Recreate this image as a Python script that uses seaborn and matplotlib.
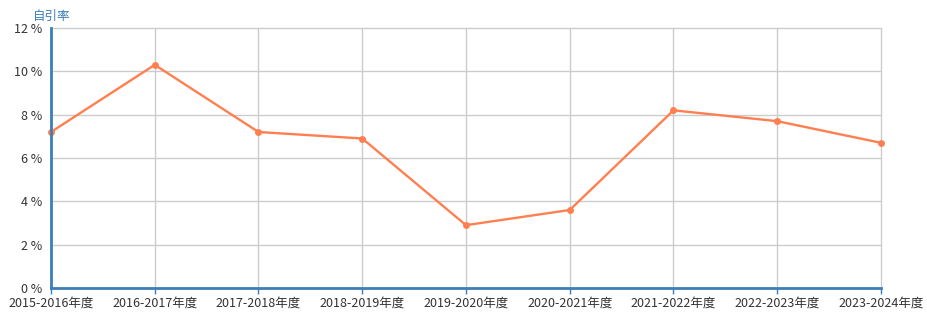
import matplotlib
matplotlib.use("Agg")
import matplotlib.pyplot as plt
import seaborn as sns
import pandas as pd

categories = ["2015-2016年度", "2016-2017年度", "2017-2018年度", "2018-2019年度",
              "2019-2020年度", "2020-2021年度", "2021-2022年度", "2022-2023年度",
              "2023-2024年度"]
values = [7.2, 10.3, 7.2, 6.9, 2.9, 3.6, 8.2, 7.7, 6.7]
yticks = [0, 2, 4, 6, 8, 10, 12]
ytick_labels = [f"{v} %" for v in yticks]

sns.set_style("white")
plt.rcParams['font.family'] = ['Noto Sans CJK SC', 'DejaVu Sans']

df = pd.DataFrame({"x": range(len(categories)), "y": values})

fig = plt.figure(figsize=(9.28, 3.3), dpi=100)
ax = fig.add_axes([51/928, 1-288/330, (881-51)/928, (288-28)/330])
sns.lineplot(data=df, x="x", y="y", ax=ax, color="#ff7f50", linewidth=1.7,
             marker="o", markersize=5, markeredgewidth=0, clip_on=False, zorder=5)

ax.set_xlim(0, len(categories)-1)
ax.set_ylim(0, 12)
ax.set_xticks(range(len(categories)))
ax.set_xticklabels(categories, fontsize=9, color="#333333")
ax.set_yticks(yticks)
ax.set_yticklabels(ytick_labels, fontsize=9, color="#333333")
ax.grid(True, color="#cccccc", linewidth=1)
for gl in ax.get_xgridlines() + ax.get_ygridlines():
    gl.set_clip_on(False)
ax.set_axisbelow(True)
ax.set_xlabel("")
ax.set_ylabel("")
for s in ["top", "right"]:
    ax.spines[s].set_visible(False)
ax.spines["left"].set_color("#3c7fb8")
ax.spines["left"].set_linewidth(2)
ax.spines["left"].set_zorder(6)
ax.spines["bottom"].set_color("#3c7fb8")
ax.spines["bottom"].set_linewidth(2)
ax.spines["bottom"].set_zorder(6)
ax.tick_params(axis="x", length=4, width=1, color="#3c7fb8", pad=2, direction="out", bottom=True)
ax.tick_params(axis="y", length=0, pad=6)
fig.text(33/928, 1-16/330, "自引率", fontsize=9, color="#3c7fb8", va="center", ha="left")

fig.savefig("out.png", dpi=100)
